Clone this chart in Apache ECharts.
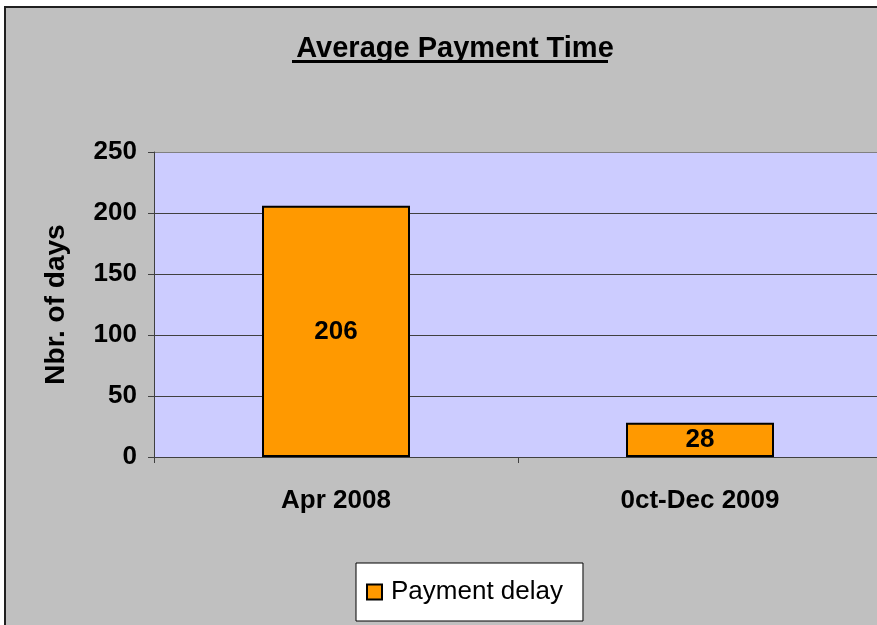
<!DOCTYPE html>
<html>
<head>
<meta charset="utf-8">
<script src="https://cdn.jsdelivr.net/npm/echarts@6/dist/echarts.min.js"></script>
<style>
  html, body { margin: 0; padding: 0; background: #fff; }
  #main { width: 877px; height: 625px; }
</style>
</head>
<body>
<div id="main"></div>
<script>
var categories = ["Apr 2008", "0ct-Dec 2009"];
var paymentDelay = [206, 28];
var yTicks = [0, 50, 100, 150, 200, 250];

var chart = echarts.init(document.getElementById("main"));

var option = {
  backgroundColor: "#ffffff",
  animation: false,
  textStyle: { fontFamily: "Liberation Sans, Arial, sans-serif" },
  title: {
    text: "Average Payment Time",
    left: 450,
    top: 29,
    textAlign: "center",
    textStyle: {
      color: "#000",
      fontSize: 29,
      fontWeight: "bold",
      fontFamily: "Liberation Sans, Arial, sans-serif"
    }
  },
  graphic: [
    {
      type: "rect",
      z: -10,
      silent: true,
      shape: { x: 5, y: 7, width: 900, height: 700 },
      style: { fill: "#c0c0c0", stroke: "#202020", lineWidth: 2 }
    },
    {
      type: "rect",
      z: 10,
      silent: true,
      shape: { x: 292, y: 60, width: 316, height: 3 },
      style: { fill: "#000" }
    }
  ],
  legend: {
    left: 356,
    top: 563,
    padding: [16, 20, 16, 10],
    backgroundColor: "#ffffff",
    borderColor: "#000",
    borderWidth: 1,
    borderRadius: 0,
    itemWidth: 15,
    itemHeight: 15,
    itemGap: 10,
    textStyle: {
      color: "#000",
      fontSize: 26,
      padding: [0, 0, 0, 4],
      fontFamily: "Liberation Sans, Arial, sans-serif"
    },
    data: [{ name: "Payment delay", icon: "rect" }]
  },
  grid: {
    left: 154,
    top: 152,
    width: 728,
    height: 305,
    outerBoundsMode: "none",
    show: true,
    backgroundColor: "#ccccff",
    borderWidth: 0
  },
  xAxis: {
    type: "category",
    data: categories,
    axisLine: { show: true, lineStyle: { color: "#404040", width: 1 } },
    axisTick: { show: true, length: 6, alignWithLabel: false, lineStyle: { color: "#404040" } },
    axisLabel: {
      margin: 31,
      color: "#000",
      fontSize: 26,
      fontWeight: "bold"
    }
  },
  yAxis: {
    type: "value",
    min: 0,
    max: 250,
    interval: 50,
    name: "Nbr. of days",
    nameLocation: "middle",
    nameGap: 84,
    nameRotate: 90,
    nameTextStyle: {
      color: "#000",
      fontSize: 28,
      fontWeight: "bold"
    },
    axisLine: { show: true, lineStyle: { color: "#404040", width: 1 } },
    axisTick: { show: true, length: 6, lineStyle: { color: "#404040" } },
    axisLabel: {
      margin: 17,
      color: "#000",
      fontSize: 26,
      fontWeight: "bold",
      formatter: function (v) { return yTicks.indexOf(v) >= 0 ? String(v) : ""; }
    },
    splitLine: {
      show: true,
      lineStyle: { color: ["#404040", "#404040", "#404040", "#404040", "#404040", "#808080"], width: 1 }
    }
  },
  series: [
    {
      name: "Payment delay",
      type: "bar",
      barWidth: 148,
      data: paymentDelay,
      itemStyle: { color: "#ff9900", borderColor: "#000", borderWidth: 2 },
      label: {
        show: true,
        position: "inside",
        color: "#000",
        fontSize: 26,
        fontWeight: "bold"
      }
    }
  ]
};

chart.setOption(option);
</script>
</body>
</html>
